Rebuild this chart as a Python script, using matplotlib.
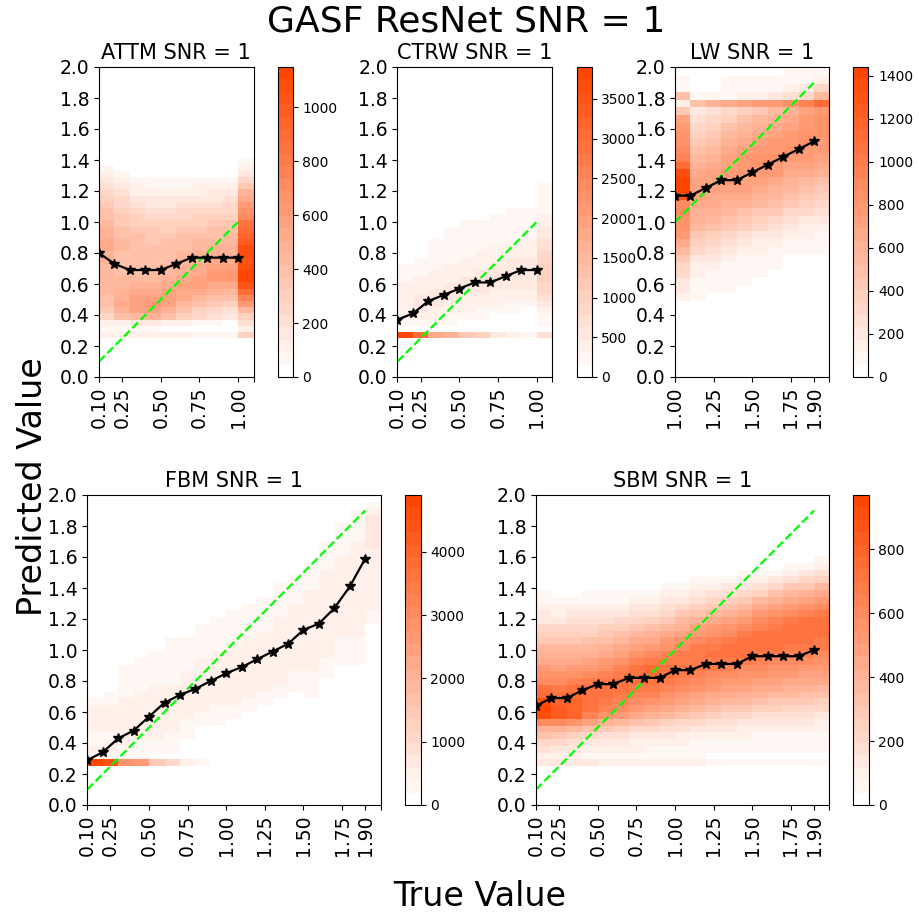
import matplotlib

matplotlib.use("Agg")
import matplotlib.pyplot as plt
import numpy as np
from matplotlib.colors import LinearSegmentedColormap

# ============================================================
# Data (counts per true-value column,
# listed from the lowest predicted-value bin upward)
# ============================================================

SUPTITLE = "GASF ResNet SNR = 1"

# ---- ATTM ----
ATTM_TRUE = [0.1, 0.2, 0.3, 0.4, 0.5, 0.6, 0.7, 0.8, 0.9, 1.0]
ATTM_MEAN = [0.80, 0.73, 0.69, 0.69, 0.69, 0.73, 0.77, 0.77, 0.77, 0.77]
ATTM_Y0, ATTM_DY = 0.25, 0.04
ATTM_COUNTS = [
    [120, 60, 100, 250, 330, 380, 400, 420, 430, 440, 450, 450, 470, 500, 520, 520,
     490, 460, 430, 400, 370, 330, 300, 260, 220, 160, 100, 60, 30],
    [110, 50, 120, 380, 480, 520, 500, 470, 440, 420, 410, 400, 400, 410, 420, 420,
     400, 380, 360, 330, 300, 270, 230, 190, 150, 100, 60, 30],
    [120, 50, 140, 450, 560, 580, 560, 520, 470, 430, 400, 390, 380, 380, 380, 380,
     370, 350, 320, 290, 250, 210, 170, 130, 100, 60, 30],
    [130, 50, 150, 470, 580, 600, 580, 540, 490, 450, 420, 400, 390, 380, 370, 360,
     350, 330, 300, 260, 220, 180, 140, 110, 80, 50, 20],
    [110, 40, 130, 400, 500, 560, 580, 580, 540, 490, 450, 420, 400, 390, 380, 370,
     350, 320, 290, 250, 210, 170, 140, 110, 80, 50, 20],
    [100, 40, 100, 300, 380, 450, 510, 550, 560, 530, 490, 460, 440, 420, 400, 390,
     370, 340, 310, 270, 230, 190, 150, 120, 90, 60, 30],
    [90, 30, 80, 250, 320, 380, 450, 510, 560, 570, 540, 510, 480, 460, 440, 420,
     390, 360, 320, 280, 240, 200, 160, 130, 100, 70, 40],
    [80, 20, 60, 200, 270, 330, 400, 480, 550, 600, 600, 560, 520, 480, 460, 440,
     410, 380, 340, 300, 260, 220, 180, 140, 110, 70, 40],
    [70, 10, 30, 150, 220, 290, 370, 450, 530, 600, 620, 590, 540, 500, 470, 450,
     420, 390, 350, 310, 270, 230, 190, 150, 110, 80, 45],
    [300, 120, 200, 320, 450, 600, 750, 900, 1050, 1120, 1150, 1100, 1050, 1100, 1080, 1000,
     950, 900, 850, 700, 650, 600, 550, 480, 350, 250, 150, 100, 60, 40, 20],
]

# ---- CTRW ----
CTRW_TRUE = [0.1, 0.2, 0.3, 0.4, 0.5, 0.6, 0.7, 0.8, 0.9, 1.0]
CTRW_MEAN = [0.37, 0.41, 0.49, 0.53, 0.57, 0.61, 0.61, 0.65, 0.69, 0.69]
CTRW_Y0, CTRW_DY = 0.25, 0.04
CTRW_COUNTS = [
    [3900, 0, 300, 400, 450, 450, 420, 400, 350, 300, 250, 180],
    [3100, 0, 300, 450, 500, 500, 480, 450, 400, 350, 280, 220, 170],
    [1750, 0, 250, 350, 430, 480, 500, 490, 450, 400, 350, 300, 250, 200, 180, 160],
    [1700, 0, 160, 300, 380, 440, 480, 500, 490, 450, 400, 350, 300, 250, 220, 190,
     170, 160],
    [1100, 0, 0, 220, 320, 400, 450, 490, 510, 500, 460, 410, 360, 300, 260, 220,
     190, 170, 160],
    [1050, 0, 0, 180, 280, 360, 420, 470, 510, 520, 500, 450, 400, 340, 290, 240,
     200, 170, 160],
    [470, 0, 0, 0, 220, 320, 400, 460, 510, 540, 530, 490, 440, 380, 320, 270,
     220, 190, 170, 160],
    [450, 0, 0, 0, 180, 280, 370, 450, 510, 550, 560, 530, 480, 420, 360, 300,
     250, 210, 180, 170, 160],
    [230, 0, 0, 0, 0, 240, 340, 430, 500, 560, 580, 560, 510, 450, 390, 330,
     270, 220, 190, 170, 160],
    [700, 0, 200, 300, 420, 560, 700, 820, 920, 1000, 1000, 950, 880, 800, 720, 640,
     560, 480, 420, 360, 300, 250, 210, 180, 160],
]

# ---- LW ----
LW_TRUE = [1.0, 1.1, 1.2, 1.3, 1.4, 1.5, 1.6, 1.7, 1.8, 1.9]
LW_MEAN = [1.17, 1.17, 1.22, 1.27, 1.27, 1.32, 1.37, 1.42, 1.47, 1.52]
LW_Y0, LW_DY = 0.49, 0.05
LW_COUNTS = [
    [150, 200, 220, 300, 320, 420, 520, 650, 750, 820, 850, 870, 900, 1300, 1400, 1440,
     1380, 1100, 950, 900, 850, 820, 780, 700, 450, 150, 500, 80, 70],
    [60, 60, 80, 120, 160, 220, 300, 380, 450, 520, 580, 620, 660, 700, 720, 700,
     660, 600, 540, 480, 420, 360, 300, 250, 200, 500, 60],
    [0, 60, 60, 90, 130, 180, 240, 320, 400, 470, 540, 600, 650, 690, 720, 740,
     720, 680, 620, 560, 500, 440, 380, 320, 260, 600, 80],
    [0, 60, 60, 80, 110, 150, 200, 270, 340, 420, 500, 570, 630, 680, 720, 750,
     760, 740, 700, 650, 590, 530, 470, 400, 330, 650, 100, 60, 60],
    [0, 0, 60, 60, 80, 110, 150, 200, 270, 350, 430, 510, 580, 640, 700, 740,
     770, 780, 760, 720, 670, 610, 540, 470, 400, 700, 120, 60, 60],
    [0, 0, 0, 60, 60, 80, 120, 170, 230, 300, 380, 460, 540, 610, 680, 740,
     800, 830, 820, 780, 730, 670, 600, 530, 460, 750, 150, 70, 60],
    [0, 0, 0, 0, 60, 60, 100, 150, 200, 260, 330, 410, 490, 560, 630, 690,
     750, 790, 810, 800, 770, 720, 660, 590, 520, 800, 180, 90, 60],
    [0, 0, 0, 0, 0, 0, 60, 100, 150, 210, 270, 340, 410, 480, 550, 620,
     680, 740, 790, 810, 800, 770, 720, 660, 590, 850, 250, 120, 80, 60],
    [0, 0, 0, 0, 0, 0, 60, 80, 120, 170, 230, 290, 360, 430, 500, 570,
     640, 700, 750, 790, 810, 810, 790, 750, 700, 950, 300, 180, 100, 60],
    [0, 0, 0, 0, 0, 0, 60, 60, 90, 130, 180, 240, 300, 370, 440, 510,
     580, 650, 710, 760, 800, 820, 830, 820, 800, 1100, 550, 300, 120, 60],
]

# ---- FBM ----
FBM_TRUE = [0.1, 0.2, 0.3, 0.4, 0.5, 0.6, 0.7, 0.8, 0.9, 1.0,
            1.1, 1.2, 1.3, 1.4, 1.5, 1.6, 1.7, 1.8, 1.9]
FBM_MEAN = [0.29, 0.34, 0.43, 0.48, 0.57, 0.66, 0.71, 0.75, 0.80, 0.85,
            0.89, 0.94, 0.99, 1.04, 1.13, 1.17, 1.27, 1.41, 1.59]
FBM_Y0, FBM_DY = 0.25, 0.04375
FBM_COUNTS = [
    [4900, 300, 450, 350, 300, 400, 450, 550, 400, 250],
    [4500, 250, 400, 400, 350, 400, 500, 500, 450, 350, 220],
    [2800, 220, 300, 400, 450, 450, 500, 500, 450, 400, 350, 300, 250, 230, 220],
    [2600, 200, 250, 350, 450, 500, 500, 500, 480, 450, 400, 350, 300, 250, 230, 220],
    [1500, 150, 220, 300, 400, 500, 550, 550, 520, 500, 450, 400, 350, 300, 250, 230, 220],
    [1000, 0, 220, 250, 350, 450, 520, 550, 550, 520, 480, 430, 380, 330, 280, 240,
     230, 220, 210],
    [500, 0, 0, 0, 220, 250, 350, 450, 520, 550, 550, 520, 480, 430, 380, 320,
     270, 230, 220],
    [300, 0, 0, 0, 0, 0, 220, 300, 400, 480, 530, 550, 550, 520, 480, 430,
     370, 310, 260, 230, 220],
    [0, 0, 0, 0, 0, 0, 220, 250, 350, 440, 500, 540, 560, 560, 540, 500,
     450, 390, 330, 270, 230, 220],
    [0, 0, 0, 0, 0, 0, 0, 220, 300, 400, 480, 530, 560, 570, 560, 530,
     490, 440, 380, 320, 260, 230, 220],
    [0, 0, 0, 0, 0, 0, 0, 0, 220, 300, 400, 480, 530, 560, 570, 560,
     530, 490, 440, 380, 320, 260, 230, 220],
    [0, 0, 0, 0, 0, 0, 0, 0, 0, 220, 300, 400, 480, 540, 570, 580,
     570, 540, 500, 450, 390, 330, 270, 230, 220],
    [0, 0, 0, 0, 0, 0, 0, 0, 0, 0, 220, 300, 400, 480, 540, 570,
     580, 570, 540, 500, 450, 400, 350, 300, 250, 230, 220],
    [0, 0, 0, 0, 0, 0, 0, 0, 0, 0, 0, 220, 300, 390, 470, 530,
     560, 580, 580, 560, 530, 490, 450, 400, 350, 300, 240, 220],
    [0, 0, 0, 0, 0, 0, 0, 0, 0, 0, 220, 230, 300, 380, 450, 500,
     540, 560, 570, 570, 560, 540, 510, 480, 440, 400, 350, 300, 240, 220],
    [0, 0, 0, 0, 0, 0, 0, 0, 0, 0, 0, 0, 0, 220, 260, 340,
     410, 470, 510, 540, 560, 570, 570, 560, 540, 510, 480, 440, 400, 350,
     300, 250, 220],
    [0, 0, 0, 0, 0, 0, 0, 0, 0, 0, 0, 0, 0, 0, 0, 220,
     250, 320, 390, 450, 500, 540, 570, 580, 580, 570, 550, 520, 490, 450,
     400, 350, 300, 250, 230, 220],
    [0, 0, 0, 0, 0, 0, 0, 0, 0, 0, 0, 0, 0, 0, 0, 220,
     230, 280, 340, 400, 450, 490, 520, 550, 570, 580, 580, 570, 550, 520,
     490, 450, 400, 350, 300, 250, 230, 220],
    [0, 0, 0, 0, 0, 0, 0, 0, 0, 0, 0, 0, 0, 0, 0, 0,
     0, 0, 0, 0, 0, 300, 350, 400, 450, 500, 520, 550, 550, 550,
     560, 580, 600, 650, 700, 700, 650, 500, 300],
]

# ---- SBM ----
SBM_TRUE = [0.1, 0.2, 0.3, 0.4, 0.5, 0.6, 0.7, 0.8, 0.9, 1.0,
            1.1, 1.2, 1.3, 1.4, 1.5, 1.6, 1.7, 1.8, 1.9]
SBM_MEAN = [0.64, 0.69, 0.69, 0.74, 0.78, 0.78, 0.82, 0.82, 0.82, 0.87,
            0.87, 0.91, 0.91, 0.91, 0.96, 0.96, 0.96, 0.96, 1.00]
SBM_Y0, SBM_DY = 0.25, 0.04375
SBM_COUNTS = [
    [150, 100, 180, 220, 330, 420, 600, 900, 970, 920, 750, 700, 600, 560, 520, 450,
     400, 380, 300, 260, 220, 150, 120, 90, 60, 40],
    [140, 90, 150, 200, 300, 420, 600, 820, 850, 800, 720, 680, 620, 560, 500, 440,
     400, 350, 300, 250, 200, 150, 110, 80, 50, 30],
    [130, 80, 130, 180, 260, 380, 550, 780, 800, 780, 740, 700, 640, 580, 520, 460,
     410, 360, 310, 260, 210, 160, 120, 80, 50, 30],
    [120, 70, 110, 150, 220, 330, 480, 650, 700, 720, 720, 700, 660, 600, 540, 480,
     420, 370, 320, 270, 220, 170, 130, 90, 60, 40, 20],
    [110, 60, 100, 130, 190, 280, 420, 580, 650, 690, 700, 700, 680, 640, 580, 520,
     460, 400, 340, 290, 240, 190, 140, 100, 70, 40, 20],
    [100, 60, 90, 120, 170, 250, 370, 520, 600, 650, 680, 700, 700, 680, 630, 570,
     500, 440, 380, 320, 260, 200, 150, 110, 70, 40, 25],
    [100, 50, 80, 110, 150, 220, 320, 450, 540, 600, 650, 690, 720, 730, 700, 640,
     570, 500, 430, 360, 290, 230, 170, 120, 80, 50, 30],
    [90, 50, 70, 100, 140, 200, 290, 400, 500, 570, 630, 680, 720, 760, 740, 680,
     610, 540, 460, 390, 320, 250, 190, 130, 90, 60, 35],
    [90, 40, 60, 90, 130, 180, 260, 360, 450, 520, 580, 630, 670, 700, 700, 680,
     640, 580, 510, 440, 370, 300, 230, 170, 120, 80, 45, 20],
    [80, 40, 50, 80, 110, 160, 230, 320, 410, 480, 540, 590, 630, 660, 680, 680,
     660, 620, 560, 490, 420, 350, 280, 210, 150, 100, 60, 30],
    [80, 40, 50, 70, 100, 140, 200, 280, 370, 440, 500, 550, 600, 640, 670, 690,
     690, 660, 610, 540, 470, 400, 330, 260, 190, 130, 80, 45, 20],
    [70, 30, 40, 60, 90, 130, 180, 250, 330, 400, 460, 520, 570, 620, 660, 690,
     700, 680, 640, 580, 510, 440, 370, 300, 230, 160, 100, 55, 25],
    [70, 30, 40, 60, 80, 120, 170, 230, 300, 370, 430, 490, 540, 590, 640, 680,
     700, 700, 670, 620, 550, 480, 400, 330, 260, 190, 120, 65, 30],
    [60, 0, 40, 50, 80, 110, 150, 210, 280, 350, 410, 470, 520, 570, 620, 660,
     700, 720, 700, 660, 600, 530, 450, 370, 290, 220, 150, 80, 40],
    [60, 30, 40, 50, 70, 100, 140, 190, 260, 330, 390, 450, 500, 550, 600, 640,
     680, 710, 720, 700, 650, 590, 510, 430, 350, 270, 190, 110, 50],
    [60, 30, 40, 50, 70, 100, 130, 180, 240, 310, 370, 430, 480, 530, 580, 620,
     660, 700, 720, 720, 690, 640, 570, 490, 400, 320, 230, 140, 70, 30],
    [60, 30, 40, 50, 60, 90, 120, 170, 230, 290, 350, 410, 460, 510, 560, 600,
     640, 680, 710, 730, 720, 680, 620, 540, 460, 370, 280, 180, 100, 50, 20],
    [60, 30, 40, 50, 60, 90, 120, 160, 220, 280, 340, 390, 440, 490, 540, 590,
     630, 670, 700, 720, 720, 700, 650, 580, 500, 410, 310, 210, 120, 60, 30],
    [60, 30, 40, 50, 60, 80, 110, 150, 200, 260, 320, 380, 430, 480, 530, 580,
     620, 660, 690, 710, 720, 710, 680, 620, 540, 450, 350, 250, 160, 90, 50],
]

TICKS_SHORT = [0.1, 0.25, 0.5, 0.75, 1.0]
TICKS_LW = [1.0, 1.25, 1.5, 1.75, 1.9]
TICKS_LONG = [0.1, 0.25, 0.5, 0.75, 1.0, 1.25, 1.5, 1.75, 1.9]

# ============================================================
# Layout (pixel boxes measured on the 920 x 918 reference)
# ============================================================

W_PX, H_PX = 920, 918
CMAP = LinearSegmentedColormap.from_list("white_orangered", ["white", "orangered"], N=25)


def px_box(left, right, top, bottom):
    return [left / W_PX, 1 - bottom / H_PX, (right - left) / W_PX, (bottom - top) / H_PX]


def draw_panel(fig, ax_box, cax_box, title, true_vals, counts, y0, dy, mean_vals, ticks):
    ax = fig.add_axes(ax_box)
    cax = fig.add_axes(cax_box)

    n_rows = max(len(c) for c in counts)
    grid = np.zeros((n_rows, len(counts)))
    for j, col in enumerate(counts):
        grid[: len(col), j] = col

    true_vals = np.asarray(true_vals, dtype=float)
    x_edges = np.round(np.append(true_vals, true_vals[-1] + 0.1), 3)
    y_edges = y0 + dy * np.arange(n_rows + 1)

    mesh = ax.pcolormesh(x_edges, y_edges, grid, cmap=CMAP, vmin=0, vmax=grid.max())

    ax.plot([true_vals[0], true_vals[-1]], [true_vals[0], true_vals[-1]],
            linestyle="--", color="lime", linewidth=1.6)
    ax.plot(true_vals, mean_vals, color="black", marker="*", markersize=7.5,
            linewidth=1.6)

    ax.set_xlim(x_edges[0], x_edges[-1])
    ax.set_ylim(0, 2.0)
    ax.set_xticks(list(ticks) + [x_edges[-1]])
    ax.set_xticklabels([f"{t:.2f}" for t in ticks] + [""], rotation=90)
    yt = np.round(np.arange(0, 2.01, 0.2), 1)
    ax.set_yticks(yt)
    ax.set_yticklabels([f"{v:.1f}" for v in yt])
    ax.tick_params(labelsize=13.5)
    ax.set_title(title, fontsize=15)

    cbar = fig.colorbar(mesh, cax=cax)
    cbar.ax.tick_params(labelsize=10)
    return ax


if __name__ == "__main__":
    fig = plt.figure(figsize=(W_PX / 100, H_PX / 100), dpi=100)

    draw_panel(fig, px_box(99, 253.5, 67, 377), px_box(277.7, 292.7, 67, 377),
               "ATTM SNR = 1", ATTM_TRUE, ATTM_COUNTS, ATTM_Y0, ATTM_DY, ATTM_MEAN,
               TICKS_SHORT)
    draw_panel(fig, px_box(397.5, 552, 67, 377), px_box(576.7, 591.7, 67, 377),
               "CTRW SNR = 1", CTRW_TRUE, CTRW_COUNTS, CTRW_Y0, CTRW_DY, CTRW_MEAN,
               TICKS_SHORT)
    draw_panel(fig, px_box(675, 829.5, 67, 377), px_box(852.7, 868.3, 67, 377),
               "LW SNR = 1", LW_TRUE, LW_COUNTS, LW_Y0, LW_DY, LW_MEAN, TICKS_LW)
    draw_panel(fig, px_box(87.3, 380.7, 495, 805), px_box(405, 420.7, 495, 805),
               "FBM SNR = 1", FBM_TRUE, FBM_COUNTS, FBM_Y0, FBM_DY, FBM_MEAN,
               TICKS_LONG)
    draw_panel(fig, px_box(536, 829.5, 495, 805), px_box(853.3, 868.7, 495, 805),
               "SBM SNR = 1", SBM_TRUE, SBM_COUNTS, SBM_Y0, SBM_DY, SBM_MEAN,
               TICKS_LONG)

    fig.text(466 / W_PX, 1 - 21 / H_PX, SUPTITLE, ha="center", va="center", fontsize=26)
    fig.text(33 / W_PX, 1 - 487 / H_PX, "Predicted Value", ha="center", va="center",
             rotation=90, fontsize=24)
    fig.text(480 / W_PX, 1 - 897 / H_PX, "True Value", ha="center", va="center",
             fontsize=24)

    fig.savefig("out.png", dpi=100)
